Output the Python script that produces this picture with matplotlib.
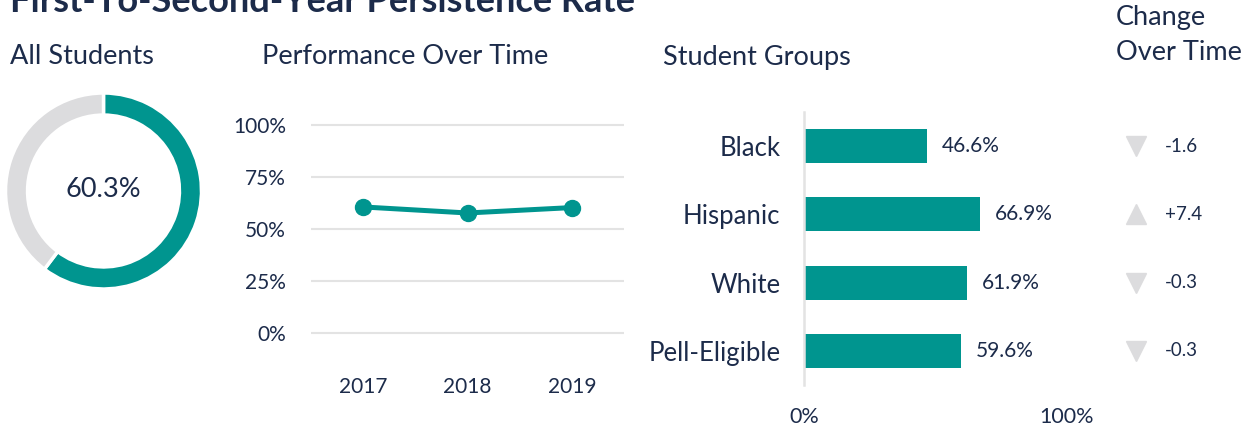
import matplotlib
matplotlib.use("Agg")
import matplotlib.pyplot as plt
from matplotlib.transforms import blended_transform_factory

plt.rcParams['font.family'] = ['Lato', 'DejaVu Sans']

# ---- data ----
title = "First-To-Second-Year Persistence Rate"
overall_rate = 60.3
years = ["2017", "2018", "2019"]
rates = [60.6, 57.7, 60.3]
y_ticks = [0, 25, 50, 75, 100]
groups = ["Black", "Hispanic", "White", "Pell-Eligible"]
group_rates = [46.6, 66.9, 61.9, 59.6]
changes = [-1.6, 7.4, -0.3, -0.3]

NAVY = "#1c2b4a"
TEAL = "#00958f"
GRAY = "#dcdcde"
GRID = "#e3e3e3"

W, H = 1250, 430
fig = plt.figure(figsize=(W / 100, H / 100), dpi=100)


def rect(x0, y0, x1, y1):
    return [x0 / W, 1 - y1 / H, (x1 - x0) / W, (y1 - y0) / H]


def fx(x):
    return x / W


def fy(y):
    return 1 - y / H


# ---- headings ----
fig.text(fx(10), fy(12), title, fontsize=26, fontweight='bold', color=NAVY,
         ha='left', va='baseline')
HS = 19.5
fig.text(fx(10), fy(57), "All Students", fontsize=HS, color=NAVY, ha='left', va='center')
fig.text(fx(262), fy(57), "Performance Over Time", fontsize=HS, color=NAVY, ha='left', va='center')
fig.text(fx(663), fy(57), "Student Groups", fontsize=HS, color=NAVY, ha='left', va='center')
fig.text(fx(1116), fy(17), "Change", fontsize=HS, color=NAVY, ha='left', va='center')
fig.text(fx(1116), fy(53), "Over Time", fontsize=HS, color=NAVY, ha='left', va='center')

# ---- donut ----
axd = fig.add_axes(rect(103.5 - 98, 191 - 98, 103.5 + 98, 191 + 98))
axd.pie([overall_rate, 100 - overall_rate], colors=[TEAL, GRAY], startangle=90,
        counterclock=False, radius=1,
        wedgeprops=dict(width=0.225, edgecolor='white', linewidth=2.5))
axd.set_xlim(-1, 1)
axd.set_ylim(-1, 1)
axd.set_aspect('equal')
axd.text(0, 0.02, f"{overall_rate:.1f}%", ha='center', va='center', fontsize=19.5, color=NAVY)
axd.axis('off')

# ---- line chart ----
pad = 208 * 0.05
axl = fig.add_axes(rect(311, 125 - pad, 624, 333 + pad))
xs = list(range(len(years)))
axl.plot(xs, rates, color=TEAL, linewidth=3.6, marker='o', markersize=11.5, zorder=3)
axl.set_xlim(-0.5, len(years) - 0.5)
axl.set_ylim(-5, 105)
axl.set_yticks(y_ticks)
axl.set_yticklabels([f"{t}%" for t in y_ticks])
axl.set_xticks(xs)
axl.set_xticklabels(years)
axl.grid(axis='y', color=GRID, linewidth=1.5)
axl.set_axisbelow(True)
for s in axl.spines.values():
    s.set_visible(False)
axl.tick_params(axis='both', length=0, labelsize=15, labelcolor=NAVY)
axl.tick_params(axis='y', pad=18)
axl.tick_params(axis='x', pad=24)

# ---- bar chart ----
axb = fig.add_axes(rect(804, 112, 1067, 385))
ypos = list(range(len(groups)))
axb.barh(ypos, group_rates, height=0.5, color=TEAL)
axb.set_xlim(0, 100)
axb.set_ylim(len(groups) - 0.5, -0.5)
axb.set_yticks(ypos)
axb.set_yticklabels(groups)
axb.set_xticks([0, 100])
axb.set_xticklabels(["0%", "100%"])
for s in ['top', 'right', 'bottom']:
    axb.spines[s].set_visible(False)
axb.spines['left'].set_color(GRID)
axb.spines['left'].set_linewidth(1.8)
axb.tick_params(axis='both', length=0, labelsize=15.5, labelcolor=NAVY)
axb.tick_params(axis='y', pad=17, labelsize=18.5)
axb.tick_params(axis='x', pad=16)
for y, v in zip(ypos, group_rates):
    axb.annotate(f"{v:.1f}%", (v, y), xytext=(11, 0), textcoords='offset points',
                 ha='left', va='center', fontsize=15, color=NAVY)

# ---- change column ----
tr = blended_transform_factory(fig.transFigure, axb.transData)
for y, c in zip(ypos, changes):
    mk = '^' if c > 0 else 'v'
    axb.plot([fx(1135.5)], [y], marker=mk, markersize=14.5, color=GRAY,
             transform=tr, clip_on=False, linestyle='none')
    axb.text(fx(1165), y, f"{c:+.1f}", transform=tr, ha='left', va='center',
             fontsize=13.5, color=NAVY)

fig.savefig("out.png", dpi=100)
